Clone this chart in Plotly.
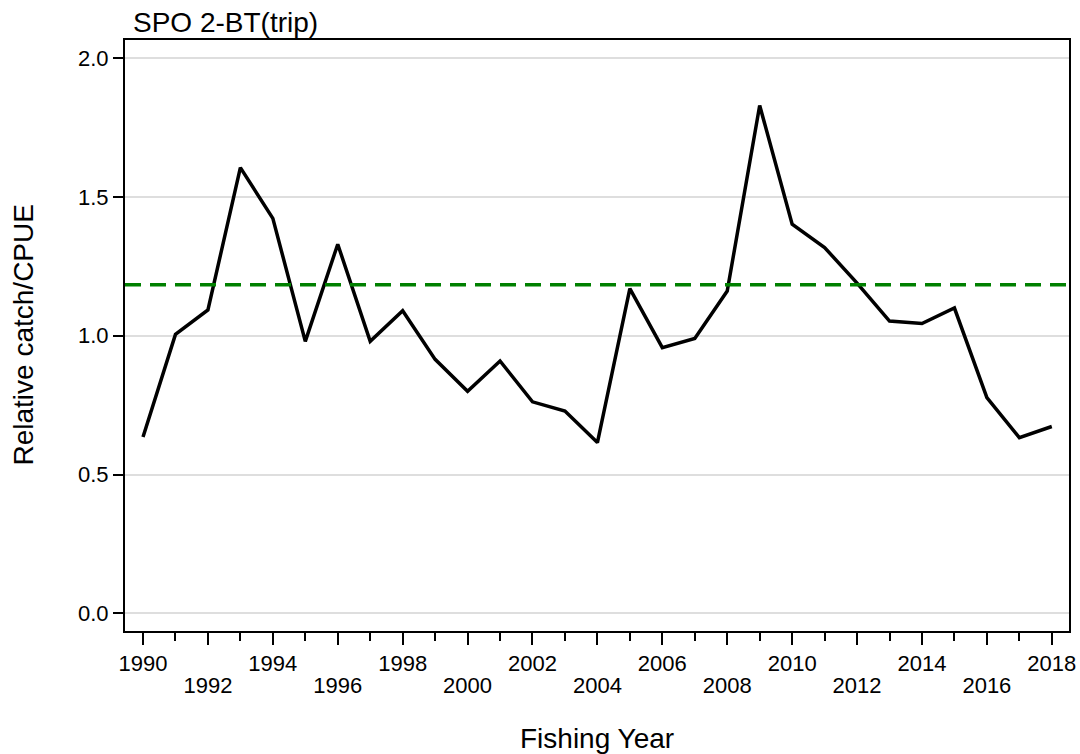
import plotly.graph_objects as go

years = list(range(1990, 2019))
cpue = [0.635, 1.005, 1.093, 1.606, 1.423, 0.980, 1.330, 0.980, 1.090, 0.915,
        0.800, 0.909, 0.762, 0.729, 0.615, 1.170, 0.957, 0.990, 1.161, 1.830,
        1.402, 1.318, 1.190, 1.053, 1.044, 1.100, 0.777, 0.633, 0.673]
reference_level = 1.184
y_ticks = [0.0, 0.5, 1.0, 1.5, 2.0]
upper_label_years = [y for y in years if (y - 1990) % 4 == 0]
lower_label_years = [y for y in years if (y - 1990) % 4 == 2]
even_years = [y for y in years if y % 2 == 0]
odd_years = [y for y in years if y % 2 == 1]

title_text = "SPO 2-BT(trip)"
x_title = "Fishing Year"
y_title = "Relative catch/CPUE"

FONT = "Liberation Sans, Arial, sans-serif"
xr = [1989.445, 2018.53]

fig = go.Figure()
fig.add_trace(go.Scatter(x=years, y=cpue, mode="lines",
                         line=dict(color="black", width=3.5),
                         showlegend=False, hoverinfo="skip"))
# invisible trace to anchor the second (label-only) x axis
fig.add_trace(go.Scatter(x=years, y=cpue, mode="lines", xaxis="x2",
                         opacity=0, line=dict(color="black", width=1),
                         showlegend=False, hoverinfo="skip"))

fig.add_shape(type="line", xref="paper", x0=0, x1=1, yref="y",
              y0=reference_level, y1=reference_level,
              line=dict(color="#008000", width=3.5, dash="16px,9px"))

fig.update_layout(
    width=1080, height=754,
    margin=dict(l=125, r=11, t=40, b=123, autoexpand=False),
    paper_bgcolor="white", plot_bgcolor="white",
    font=dict(family=FONT, color="black", size=22),
    xaxis=dict(range=xr, tickmode="array", automargin=False,
               tickvals=even_years,
               ticktext=[str(y) if y in upper_label_years else "" for y in even_years],
               ticks="outside", ticklen=12, tickwidth=2, tickcolor="black",
               showgrid=False, zeroline=False,
               showline=True, linecolor="black", linewidth=2, mirror=True,
               tickfont=dict(size=22, family=FONT),
               minor=dict(tickvals=odd_years, ticks="outside", ticklen=8,
                          tickwidth=2, tickcolor="black", showgrid=False)),
    xaxis2=dict(range=xr, overlaying="x", side="bottom", anchor="y",
                automargin=False,
                tickmode="array", tickvals=lower_label_years,
                ticktext=[str(y) for y in lower_label_years],
                ticks="", showgrid=False, zeroline=False, showline=False,
                ticklabelstandoff=39,
                tickfont=dict(size=22, family=FONT)),
    yaxis=dict(range=[-0.064, 2.066], tickmode="array", tickvals=y_ticks,
               automargin=False,
               ticktext=[f"{v:.1f}" for v in y_ticks],
               ticks="outside", ticklen=10, tickwidth=2, tickcolor="black",
               showgrid=True, gridcolor="#dedede", gridwidth=2,
               zeroline=False,
               showline=True, linecolor="black", linewidth=2, mirror=True,
               tickfont=dict(size=22, family=FONT)),
    annotations=[
        dict(text=title_text, xref="paper", yref="paper", x=0.006, y=1,
             xanchor="left", yanchor="bottom", yshift=0, showarrow=False,
             font=dict(size=28, family=FONT)),
        dict(text=x_title, xref="paper", yref="paper", x=0.5, y=0,
             xanchor="center", yanchor="middle", yshift=-107, showarrow=False,
             font=dict(size=28, family=FONT)),
        dict(text=y_title, xref="paper", yref="paper", x=0, y=0.5,
             xanchor="center", yanchor="middle", xshift=-102, textangle=-90,
             showarrow=False, font=dict(size=28, family=FONT)),
    ],
)

fig.write_html("out.html",
               config={"displayModeBar": False, "staticPlot": True},
               post_script="document.body.style.margin='0';"
                           "document.body.style.overflow='hidden';")
